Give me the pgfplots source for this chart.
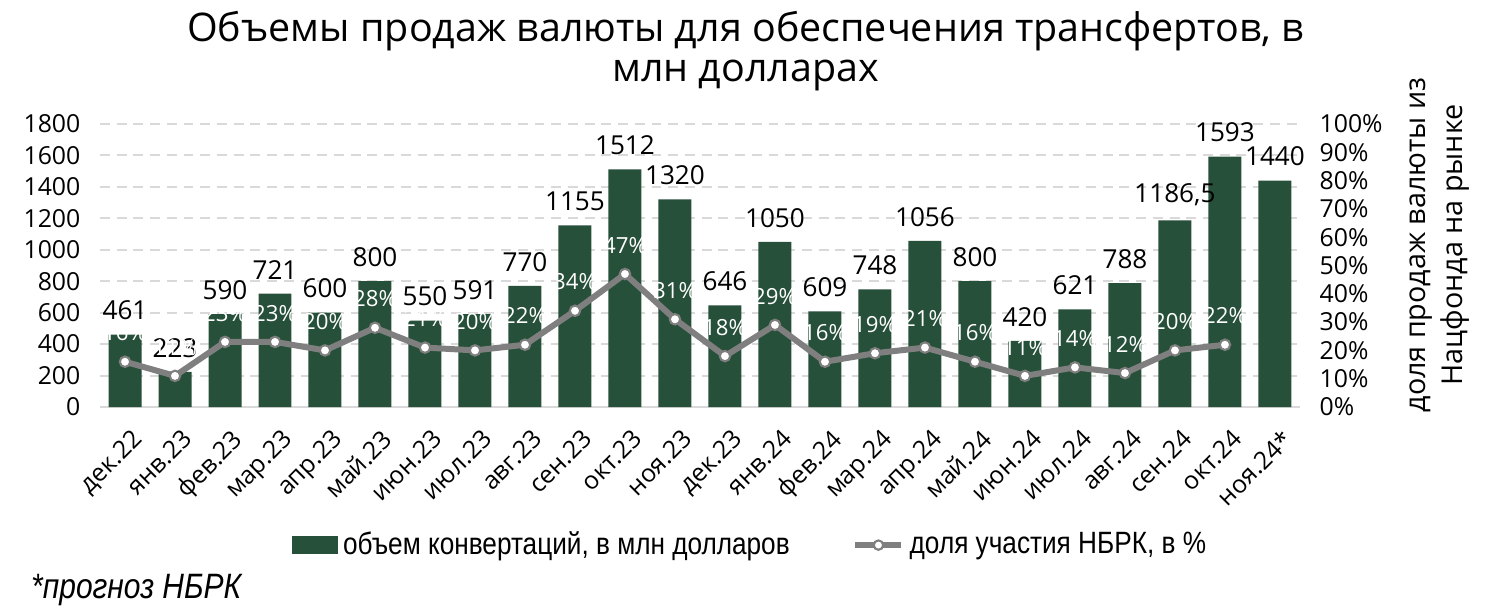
\documentclass[border=0pt]{standalone}
\usepackage{fontspec}
\setmainfont{Open Sans}
\newfontfamily\narrowfont{Liberation Sans}[FakeStretch=0.85]
\usepackage{pgfplots}
\usepackage{pgfplotstable}
\pgfplotsset{compat=1.18}

\definecolor{bargreen}{HTML}{27503A}
\definecolor{linegray}{HTML}{7F7F7F}
\definecolor{gridgray}{HTML}{D9D9D9}

% volume of conversion, mln USD
\pgfplotstableread{
x vol
0 461
1 223
2 590
3 721
4 600
5 800
6 550
7 591
8 770
9 1155
10 1512
11 1320
12 646
13 1050
14 609
15 748
16 1056
17 800
18 420
19 621
20 788
21 1186.5
22 1593
23 1440
}\volumes

% NBRK share, %
\pgfplotstableread{
x share
0 16
1 11
2 23
3 23
4 20
5 28
6 21
7 20
8 22
9 34
10 47
11 31
12 18
13 29
14 16
15 19
16 21
17 16
18 11
19 14
20 12
21 20
22 22
}\shares

\begin{document}
\begin{tikzpicture}
\pgfplotsset{
  common/.style={
    scale only axis, width=16.15cm, height=3.809cm,
    at={(0,0)}, anchor=south west,
    xmin=-0.5, xmax=23.5,
    /pgf/number format/.cd, use comma, 1000 sep={}, assume math mode=true,
    /pgfplots/.cd,
    ticklabel style={font=\fontsize{9.5}{11}\selectfont},
    tick style={draw=none},
  },
}

\begin{axis}[common,
  ymin=0, ymax=1800,
  ytick={0,200,...,1800},
  axis x line*=bottom,
  axis y line*=left,
  y axis line style={draw=none},
  x axis line style={draw=gridgray, line width=1pt},
  ymajorgrids,
  grid style={draw=gridgray, line width=0.8pt, dash pattern=on 3.8pt off 2.6pt},
  xtick={0,...,23},
  xticklabels={дек.22,янв.23,фев.23,мар.23,апр.23,май.23,июн.23,июл.23,авг.23,сен.23,окт.23,ноя.23,дек.23,янв.24,фев.24,мар.24,апр.24,май.24,июн.24,июл.24,авг.24,сен.24,окт.24,ноя.24*},
  xticklabel style={rotate=45, anchor=north east, inner sep=1pt, xshift=0pt, yshift=-3pt},
  yticklabel style={xshift=-4pt},
  ybar, bar width=0.66,
  nodes near coords={\pgfmathprintnumber[precision=1]{\pgfplotspointmeta}},
  every node near coord/.append style={font=\fontsize{10}{12}\selectfont, text=black, yshift=2pt},
  legend style={at={(0.543,-0.488)}, anchor=center, draw=none, legend columns=2,
    font=\narrowfont\fontsize{11.8}{14}\selectfont,
    /tikz/every even column/.append style={column sep=22pt}},
  legend image code/.code={\draw[#1, draw=none] (0cm,-0.12cm) rectangle (0.62cm,0.12cm);},
]
\addplot[fill=bargreen, draw=none] table[x=x, y=vol] {\volumes};
\addlegendentry{объем конвертаций, в млн долларов}
\addlegendimage{legend image code/.code={
  \draw[linegray, line width=2.3pt] (0cm,0cm) -- (0.62cm,0cm);
  \draw[linegray, fill=white, line width=0.8pt] (0.31cm,0cm) circle (1.8pt);}}
\addlegendentry{доля участия НБРК, в \%}
\end{axis}

\begin{axis}[common,
  ymin=0, ymax=100,
  ytick={0,10,...,100},
  yticklabel={\pgfmathprintnumber{\tick}\%},
  yticklabel style={xshift=4pt},
  axis x line=none,
  axis y line*=right,
  y axis line style={draw=none},
  nodes near coords={\pgfmathprintnumber{\pgfplotspointmeta}\%},
  every node near coord/.append style={font=\fontsize{8.5}{10}\selectfont, text=white, anchor=center, yshift=11pt},
]
\addplot[linegray, line width=2.3pt, mark=*, mark size=2pt,
  mark options={fill=white, draw=linegray, line width=0.8pt}]
  table[x=x, y=share] {\shares};
\end{axis}

\node[font=\fontsize{15.1}{15.5}\selectfont, align=center] at (8.69,4.79)
  {Объемы продаж валюты для обеспечения трансфертов, в\\млн долларах};
\node[font=\fontsize{11}{14}\selectfont, align=center, rotate=90] at (18.03,2.18)
  {доля продаж валюты из\\Нацфонда на рынке};
\node[font=\narrowfont\itshape\fontsize{13.5}{16}\selectfont, anchor=west] at (-1.05,-2.46)
  {*прогноз НБРК};
\path (-1.346,-2.80) rectangle (18.654,5.478);
\end{tikzpicture}
\end{document}
